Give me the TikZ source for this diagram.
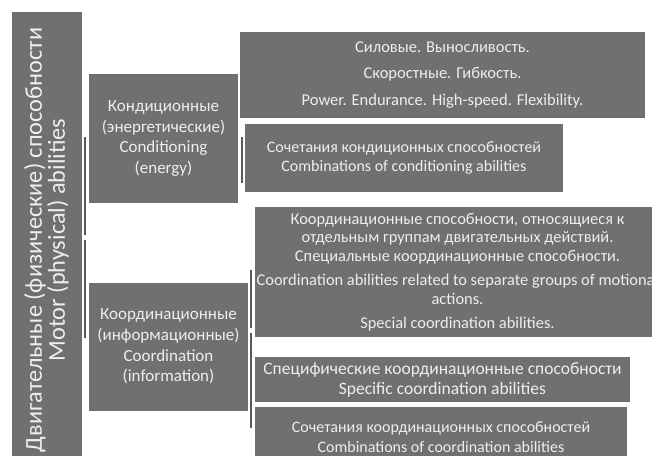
\documentclass[tikz,border=0pt]{standalone}
\usepackage{fontspec}
\setmainfont{Carlito}
\usepackage{tikz}
\definecolor{boxgray}{RGB}{112,112,112}
\definecolor{linegray}{RGB}{90,90,90}
\definecolor{textwhite}{RGB}{238,238,238}

\begin{document}
\begin{tikzpicture}[x=1pt,y=-1pt]
    \tikzstyle{block}=[fill=boxgray,text=textwhite,align=center,inner sep=0pt]
    \tikzstyle{link}=[draw=linegray,line width=1.5pt]

    \useasboundingbox[fill=white] (0,0) rectangle (652,455);

    % Draw the main column
    \node[block,rotate=90,minimum width=456pt,minimum height=70pt,
          font=\fontsize{24.3}{23}\selectfont] (main) at (46.5,240)
        {Двигательные (физические) способности\\Motor (physical) abilities};

    % Draw the two groups
    \node[block,minimum width=149pt,minimum height=129pt,
          font=\fontsize{17}{20.4}\selectfont] (cond) at (163.5,138.5)
        {Кондиционные\\(энергетические)\\Conditioning\\(energy)};
    \node[block,minimum width=159pt,minimum height=128pt,
          font=\fontsize{17}{20.6}\selectfont] (coord) at (168.5,346.5)
        {Координационные\\(информационные)\\Coordination\\(information)};

    % Draw the abilities
    \node[block,minimum width=405pt,minimum height=86pt,
          font=\fontsize{16.5}{19}\selectfont] (power) at (442.5,75)
        {Силовые. Выносливость.\\[7.5pt]Скоростные. Гибкость.\\[7.5pt]Power. Endurance. High-speed. Flexibility.};
    \node[block,minimum width=318pt,minimum height=68pt,
          font=\fontsize{16}{19.5}\selectfont] (condmix) at (404,158)
        {Сочетания кондиционных способностей\\Combinations of conditioning abilities};
    \node[block,minimum width=405pt,minimum height=130pt,
          font=\fontsize{16.4}{18.5}\selectfont] (special) at (457.5,272)
        {Координационные способности, относящиеся к\\отдельным группам двигательных действий.\\Специальные координационные способности.\\[6pt]
         Coordination abilities related to separate groups of motional\\actions.\\[6pt]Special coordination abilities.};
    \node[block,minimum width=375pt,minimum height=45pt,
          font=\fontsize{17.5}{20}\selectfont] (specific) at (442.5,379.5)
        {Специфические координационные способности\\Specific coordination abilities};
    \node[block,minimum width=372pt,minimum height=60pt,
          font=\fontsize{16}{20}\selectfont] (coordmix) at (441,437)
        {Сочетания координационных способностей\\Combinations of coordination abilities};

    % Draw the connectors
    \foreach \name/\x/\a/\b in {l1/85/137/235, l2/85/240/338, r1/242/137/183,
                                r2/251/270/328, r3/251/333/428} {
        \coordinate (\name-a) at (\x,\a);
        \coordinate (\name-b) at (\x,\b);
        \draw[link] (\name-a) -- (\name-b);
    }
\end{tikzpicture}
\end{document}
